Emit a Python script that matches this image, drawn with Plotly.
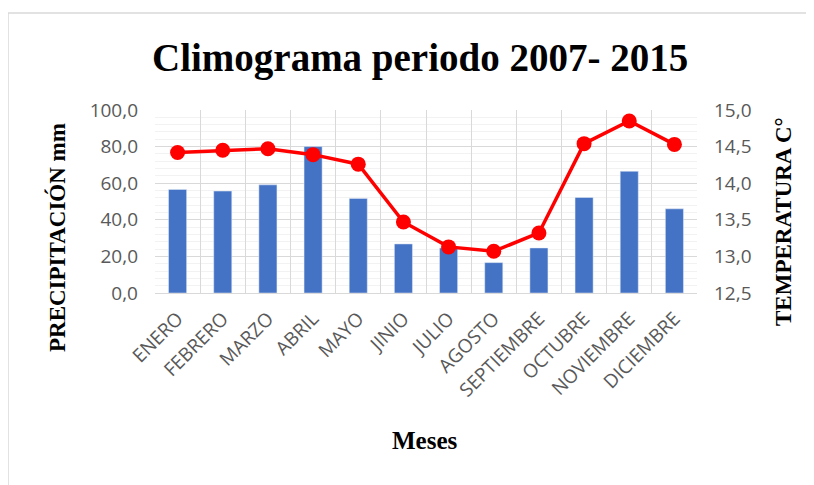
import plotly.graph_objects as go

meses = ["ENERO", "FEBRERO", "MARZO", "ABRIL", "MAYO", "JINIO", "JULIO",
         "AGOSTO", "SEPTIEMBRE", "OCTUBRE", "NOVIEMBRE", "DICIEMBRE"]
precipitacion = [56.6, 55.7, 59.1, 80.0, 51.7, 26.8, 24.6, 16.6, 24.6, 52.2, 66.5, 46.0]
temperatura = [14.42, 14.45, 14.47, 14.39, 14.26, 13.47, 13.13, 13.07, 13.32, 14.54, 14.85, 14.53]

# the page body has an 8px margin, so the figure is drawn 8px in from the window edge
OFF = 8
W, H = 814 - OFF, 485 - OFF
L, R, T, B = 155 - OFF, 117, 110 - OFF, 192
pw, ph = W - L - R, H - T - B


def px_x(x):
    # window pixel -> paper coordinate
    return (x - OFF - L) / pw


def px_y(y):
    return 1 - (y - OFF - T) / ph


serif = "Liberation Serif, Times New Roman, serif"
sans = "Open Sans, sans-serif"
grey = "#595959"


def label(text, x, y, size, angle=0):
    return dict(text=f"<b>{text}</b>", xref="paper", yref="paper",
                x=px_x(x), y=px_y(y), xanchor="center", yanchor="middle",
                textangle=angle, showarrow=False,
                font=dict(family=serif, size=size, color="black"))


fig = go.Figure()
fig.add_trace(go.Bar(
    x=meses, y=precipitacion, name="Precipitación",
    marker_color="#4472C4", width=0.4, yaxis="y"
))
fig.add_trace(go.Scatter(
    x=meses, y=temperatura, name="Temperatura", mode="lines+markers",
    line=dict(color="#FF0000", width=3.5),
    marker=dict(color="#FF0000", size=15), yaxis="y2"
))

fig.update_layout(
    width=W, height=H,
    margin=dict(l=L, r=R, t=T, b=B),
    paper_bgcolor="white", plot_bgcolor="white",
    separators=",.",
    showlegend=False,
    xaxis=dict(
        type="category", tickson="boundaries", showgrid=True,
        gridcolor="#d9d9d9", gridwidth=1, ticks="",
        tickangle=-45, tickfont=dict(family=sans, size=19, color=grey),
        ticklabelstandoff=6,
        showline=True, linecolor="#d9d9d9", range=[-0.5, 11.5],
    ),
    yaxis=dict(
        range=[0, 100], dtick=20, tickformat=".1f",
        showgrid=True, gridcolor="#d9d9d9", zeroline=False,
        minor=dict(dtick=4, showgrid=True, gridcolor="#f2f2f2"),
        tickfont=dict(family=sans, size=19, color=grey), ticks="",
        ticklabelstandoff=16,
    ),
    yaxis2=dict(
        range=[12.5, 15.0], dtick=0.5, tickformat=".1f",
        overlaying="y", side="right", showgrid=False, zeroline=False,
        tickfont=dict(family=sans, size=19, color=grey), ticks="",
        ticklabelstandoff=16,
    ),
    annotations=[
        label("Climograma periodo 2007- 2015", 420, 58, 39),
        label("PRECIPITACIÓN mm", 57, 238, 23, -90),
        label("TEMPERATURA C°", 783, 222, 23, -90),
        label("Meses", 425, 440, 25),
    ],
    shapes=[
        dict(type="line", xref="paper", yref="paper",
             x0=px_x(8), x1=px_x(830), y0=px_y(13), y1=px_y(13),
             line=dict(color="#d9d9d9", width=1.5)),
        dict(type="line", xref="paper", yref="paper",
             x0=px_x(8), x1=px_x(8), y0=px_y(13), y1=px_y(500),
             line=dict(color="#d9d9d9", width=1.5)),
    ],
)

fig.write_html("out.html")
